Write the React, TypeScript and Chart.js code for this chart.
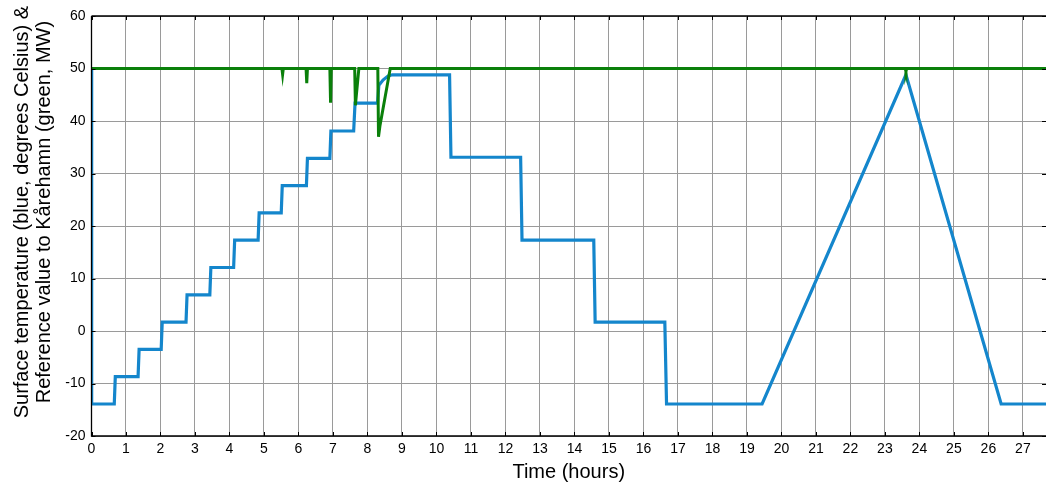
import React, { useEffect, useRef } from "react";
import { Chart, registerables } from "chart.js";

Chart.register(...registerables);

// Blue: surface temperature (degrees Celsius)
const blueTimes = [
  0, 0.005, 0.66, 0.69, 1.35, 1.38, 2.02, 2.05, 2.74, 2.77, 3.43, 3.46, 4.12, 4.15,
  4.83, 4.86, 5.5, 5.53, 6.23, 6.26, 6.91, 6.94, 7.6, 7.64, 8.29, 8.33, 8.45, 8.6, 8.72,
  10.38, 10.42, 12.44, 12.48, 14.56, 14.6, 16.62, 16.67, 19.44, 23.61, 26.37, 27.7,
];
const blueValues = [
  50, -13.9, -13.9, -8.7, -8.7, -3.5, -3.5, 1.7, 1.7, 6.9, 6.9, 12.1, 12.1, 17.3,
  17.3, 22.5, 22.5, 27.7, 27.7, 32.9, 32.9, 38.1, 38.1, 43.4, 43.4, 46.8, 47.8, 48.6, 48.8,
  48.8, 33.1, 33.1, 17.3, 17.3, 1.7, 1.7, -13.9, -13.9, 48.8, -13.9, -13.9,
];

// Green: reference value to Kårehamn (MW)
const greenTimes = [
  0, 5.52, 5.54, 5.56, 6.22, 6.24, 6.26, 6.91, 6.93, 6.95, 7.63, 7.65, 7.75,
  8.3, 8.32, 8.36, 8.66, 23.59, 23.61, 23.63, 27.7,
];
const greenValues = [
  50, 50, 48.9, 50, 50, 47.2, 50, 50, 43.5, 50, 50, 43.0, 50,
  50, 37.0, 39.0, 50, 50, 49.4, 50, 50,
];

const xTicks = [0, 1, 2, 3, 4, 5, 6, 7, 8, 9, 10, 11, 12, 13, 14, 15, 16, 17, 18, 19, 20, 21, 22, 23, 24, 25, 26, 27];
const yTicks = [-20, -10, 0, 10, 20, 30, 40, 50, 60];
const yTitleLines = [
  "     Surface temperature (blue, degrees Celsius) &",
  "     Reference value to Kårehamn (green, MW)",
];
const xTitle = "Time (hours)";

const X_MAX = 27.67;
const FONT = "Arial, 'Liberation Sans', Helvetica, sans-serif";

const boxPlugin = {
  id: "matlabBox",
  afterDatasetsDraw(chart: any) {
    const { ctx, chartArea } = chart;
    const { left, right, top, bottom } = chartArea;
    const xs = chart.scales.x;
    const ys = chart.scales.y;
    const len = 4;
    ctx.save();
    ctx.strokeStyle = "#000";
    ctx.lineWidth = 1;
    ctx.beginPath();
    for (const v of xTicks) {
      const px = Math.round(xs.getPixelForValue(v)) + 0.5;
      ctx.moveTo(px, bottom);
      ctx.lineTo(px, bottom - len);
      ctx.moveTo(px, top);
      ctx.lineTo(px, top + len);
    }
    for (const v of yTicks) {
      const py = Math.round(ys.getPixelForValue(v)) + 0.5;
      ctx.moveTo(left, py);
      ctx.lineTo(left + len, py);
      ctx.moveTo(right, py);
      ctx.lineTo(right - len, py);
    }
    ctx.stroke();
    ctx.lineWidth = 1.3;
    ctx.beginPath();
    ctx.moveTo(left, top);
    ctx.lineTo(right, top);
    ctx.moveTo(left, top);
    ctx.lineTo(left, bottom);
    ctx.lineTo(right, bottom);
    ctx.stroke();
    ctx.restore();
  },
};

export default function App() {
  const ref = useRef<HTMLCanvasElement | null>(null);
  useEffect(() => {
    if (!ref.current) return;
    const blue = blueTimes.map((t, i) => ({ x: t, y: blueValues[i] }));
    const green = greenTimes.map((t, i) => ({ x: t, y: greenValues[i] }));
    const chart = new Chart(ref.current, {
      type: "line",
      data: {
        datasets: [
          {
            label: "Surface temperature",
            data: blue,
            borderColor: "#1486cc",
            borderWidth: 3.2,
            pointRadius: 0,
            tension: 0,
            order: 2,
          },
          {
            label: "Reference value to Kårehamn",
            data: green,
            borderColor: "#0a800a",
            borderWidth: 3,
            pointRadius: 0,
            tension: 0,
            order: 1,
          },
        ],
      },
      options: {
        responsive: false,
        animation: false,
        layout: { padding: { top: 16, left: 0, right: 0, bottom: 0 } },
        plugins: { legend: { display: false }, tooltip: { enabled: false } },
        scales: {
          x: {
            type: "linear",
            min: 0,
            max: X_MAX,
            afterBuildTicks: (scale: any) => {
              scale.ticks = xTicks.map((v) => ({ value: v }));
            },
            afterFit: (scale: any) => {
              scale.height = 50;
            },
            ticks: {
              color: "#000",
              font: { family: FONT, size: 14 },
              padding: 5,
              maxRotation: 0,
              autoSkip: false,
              callback: (v: any) => String(v),
            },
            grid: { color: "#9a9a9a", lineWidth: 1, drawTicks: false },
            border: { display: false },
            title: {
              display: true,
              text: xTitle,
              color: "#000",
              font: { family: FONT, size: 20, lineHeight: 1.2 },
              padding: { top: 0, bottom: 2 },
            },
          },
          y: {
            type: "linear",
            min: -20,
            max: 60,
            afterBuildTicks: (scale: any) => {
              scale.ticks = yTicks.map((v) => ({ value: v }));
            },
            afterFit: (scale: any) => {
              scale.width = 91.5;
            },
            ticks: {
              color: "#000",
              font: { family: FONT, size: 14 },
              padding: 6,
              callback: (v: any) => String(v),
            },
            grid: { color: "#9a9a9a", lineWidth: 1, drawTicks: false },
            border: { display: false },
            title: {
              display: true,
              text: yTitleLines,
              color: "#000",
              font: { family: FONT, size: 20, lineHeight: 1.1 },
              padding: { top: 11, bottom: 0 },
            },
          },
        },
      },
      plugins: [boxPlugin],
    });
    return () => chart.destroy();
  }, []);
  return (
    <div style={{ position: "absolute", left: 0, top: 0, width: 1046, height: 486, background: "#fff" }}>
      <canvas ref={ref} width={1046} height={486} style={{ display: "block" }} />
    </div>
  );
}
